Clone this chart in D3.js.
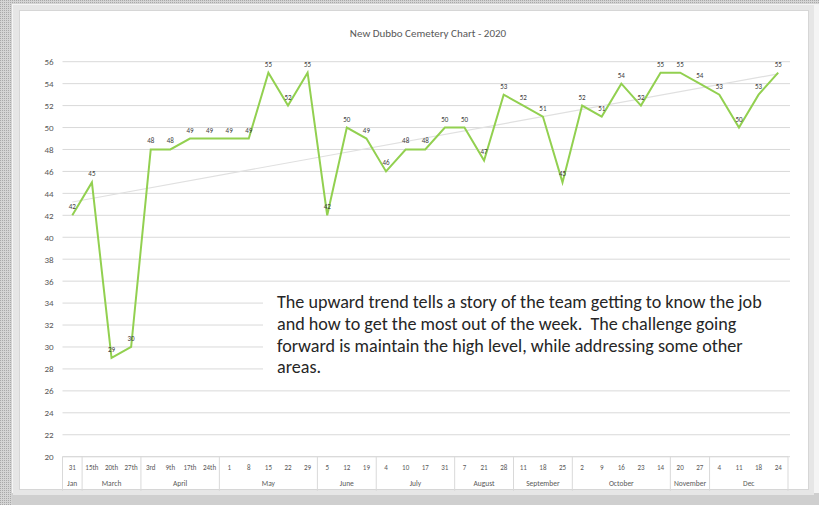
<!DOCTYPE html>
<html><head><meta charset="utf-8">
<script src="https://cdn.jsdelivr.net/npm/d3@7"></script>
<style>html,body{margin:0;padding:0;background:#fff;}svg{display:block;}</style>
</head><body>
<svg id="chart" width="819" height="505"></svg>
<script>
const tickLabels = ["31","15th","20th","27th","3rd","9th","17th","24th","1","8","15","22","29","5","12","19","4","10","17","31","7","21","28","11","18","25","2","9","16","23","14","20","27","4","11","18","24"];
const groupNames = ["Jan","March","April","May","June","July","August","September","October","November","Dec"];
const groupSizes = [1,3,4,5,3,4,3,3,5,2,4];
const values = [42,45,29,30,48,48,49,49,49,49,55,52,55,42,50,49,46,48,48,50,50,47,53,52,51,45,52,51,54,52,55,55,54,53,50,53,55];
const yTicks = d3.range(20, 57, 2);
const title = "New Dubbo Cemetery Chart - 2020";
const noteLines = [
  "The upward trend tells a story of the team getting to know the job",
  "and how to get the most out of the week.  The challenge going",
  "forward is maintain the high level, while addressing some other",
  "areas."
];

const svg = d3.select("#chart");
const W = 819, H = 505;
const FONT = "Calibri, Carlito, 'Open Sans', sans-serif";

// page frame
const defs = svg.append("defs");
const pat = defs.append("pattern").attr("id","dots").attr("width",2).attr("height",2).attr("patternUnits","userSpaceOnUse");
pat.append("rect").attr("width",2).attr("height",2).attr("fill","#d4d4d4");
pat.append("rect").attr("width",1).attr("height",1).attr("fill","#a8a8a8");
svg.append("rect").attr("x",0).attr("y",0).attr("width",W).attr("height",H).attr("fill","url(#dots)");
svg.append("rect").attr("x",12).attr("y",4).attr("width",W-12).attr("height",H-4).attr("fill","#f4f4f4");
svg.append("rect").attr("x",12).attr("y",493).attr("width",W-12).attr("height",12).attr("fill","#cfcfcf");
svg.append("rect").attr("x",13).attr("y",5).attr("width",801).attr("height",490).attr("fill","#e6e6e6");
svg.append("rect").attr("x",19.5).attr("y",10.5).attr("width",789).attr("height",479).attr("fill","#ffffff").attr("stroke","#d6d6d6").attr("stroke-width",1);

const x0 = 62.5, x1 = 788;
const x = d3.scaleBand().domain(d3.range(values.length)).range([x0, x1]);
const cx = i => x(i) + x.bandwidth()/2;
const y = d3.scaleLinear().domain([20, 56]).range([456.7, 61.7]);

// gridlines
svg.append("g").selectAll("line").data(yTicks).join("line")
  .attr("x1", x0).attr("x2", 790)
  .attr("y1", d => y(d)).attr("y2", d => y(d))
  .attr("stroke", "#d9d9d9").attr("stroke-width", 1);

// y axis labels
const yAxis = d3.axisLeft(y).tickValues(yTicks).tickSize(0).tickPadding(0);
const yg = svg.append("g").attr("transform", `translate(${x0 - 9},0)`).call(yAxis);
yg.select(".domain").remove();
yg.selectAll("text").attr("font-family",FONT).attr("font-size", 9).attr("fill","#595959");

// title
svg.append("text").attr("x", 428).attr("y", 37).attr("text-anchor","middle")
  .attr("font-family",FONT).attr("font-size", 11).attr("fill","#595959").text(title);

// trendline (linear regression, as Excel's trendline)
const n = values.length;
const mx = d3.mean(d3.range(n)), my = d3.mean(values);
const slope = d3.sum(d3.range(n), i => (i - mx) * (values[i] - my)) / d3.sum(d3.range(n), i => (i - mx) ** 2);
const icpt = my - slope * mx;
svg.append("line").attr("x1", cx(0)).attr("y1", y(icpt)).attr("x2", cx(n-1)).attr("y2", y(icpt + slope*(n-1)))
  .attr("stroke","#e0e0e0").attr("stroke-width",1.2);

// text box (white background covering gridlines)
svg.append("rect").attr("x", 263).attr("y", 285).attr("width", 528).attr("height", 95).attr("fill","#ffffff");

// data line
const line = d3.line().x((d,i) => cx(i)).y(d => y(d));
svg.append("path").datum(values).attr("d", line).attr("fill","none")
  .attr("stroke","#92d050").attr("stroke-width",2).attr("stroke-linejoin","miter");

// data labels
svg.append("g").selectAll("text").data(values).join("text")
  .attr("x", (d,i) => cx(i)).attr("y", d => y(d) - 6)
  .attr("text-anchor","middle")
  .attr("font-family",FONT).attr("font-size", 7).attr("fill","#404040")
  .text(d => d);

// note text
const keepSpaces = s => s.replace(/  /g, "\u00a0 ");
const note = svg.append("g").attr("font-family",FONT).attr("fill","#262626");
const t0 = note.append("text").attr("x", 277).attr("y", 308).attr("font-size", 16).text(keepSpaces(noteLines[0]));
const w0 = t0.node().getComputedTextLength();
const fs = 16 * 485 / w0;
t0.attr("font-size", fs);
noteLines.slice(1).forEach((s, k) => {
  note.append("text").attr("x", 277).attr("y", 308 + (k+1)*21.8).attr("font-size", fs).text(keepSpaces(s));
});

// x axis
const axisY = y(20);
svg.append("line").attr("x1", x0).attr("x2", x1).attr("y1", axisY).attr("y2", axisY).attr("stroke","#d9d9d9");
svg.append("g").selectAll("text").data(tickLabels).join("text")
  .attr("x", (d,i) => cx(i)).attr("y", 470).attr("text-anchor","middle")
  .attr("font-family",FONT).attr("font-size", 7).attr("fill","#595959")
  .text(d => d);

let starts = [0];
groupSizes.forEach((s,k) => starts.push(starts[k] + s));
const bounds = starts.map(s => s < n ? x(s) : x1);
svg.append("g").selectAll("line").data(bounds).join("line")
  .attr("x1", d => d).attr("x2", d => d).attr("y1", axisY).attr("y2", 491)
  .attr("stroke","#d9d9d9");
svg.append("g").selectAll("text").data(groupNames).join("text")
  .attr("x", (d,k) => (bounds[k] + bounds[k+1]) / 2).attr("y", 486).attr("text-anchor","middle")
  .attr("font-family",FONT).attr("font-size", 7.5).attr("fill","#595959")
  .text(d => d);
</script>
</body></html>
